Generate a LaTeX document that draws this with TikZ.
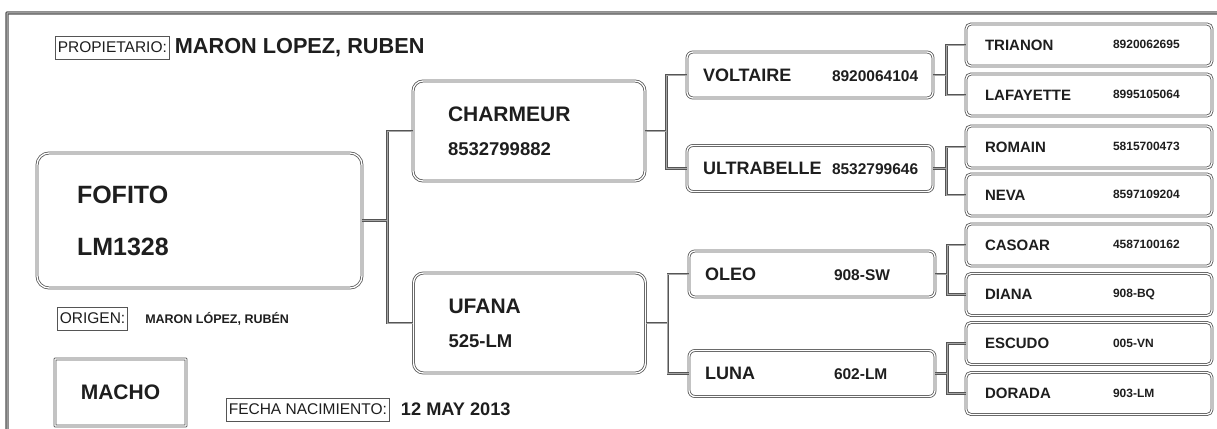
\documentclass[tikz,border=0pt]{standalone}
\usepackage{fontspec}
\setmainfont{Liberation Sans}
\usepackage{xcolor}
\usetikzlibrary{positioning}
\definecolor{pedline}{RGB}{85,85,85}
\definecolor{pedtext}{RGB}{30,30,30}
\newcommand{\threerow}[2]{\makebox[129pt][l]{#1}{\fontsize{15.5}{18}\selectfont#2}}
\newcommand{\fourrow}[2]{\makebox[128pt][l]{#1}\raisebox{1.5pt}{\fontsize{12}{14}\selectfont#2}}

\begin{document}
\begin{tikzpicture}[x=1pt, y=-1pt,
        dbl/.style={draw=pedline, line width=0.8pt, double=white, double distance=1.3pt},
        mainbox/.style={dbl, rounded corners=12pt, minimum width=325pt, minimum height=135pt, inner xsep=40pt, text width=245pt, align=left, text=pedtext, font=\bfseries\fontsize{25}{52}\selectfont},
        gentwo/.style={dbl, rounded corners=10pt, minimum width=232pt, minimum height=100pt, inner xsep=35pt, text width=162pt, align=left, text=pedtext, font=\bfseries\fontsize{21}{34}\selectfont},
        genthree/.style={dbl, rounded corners=6pt, minimum width=246pt, minimum height=46pt, inner xsep=16pt, text width=214pt, align=left, text=pedtext, font=\bfseries\fontsize{18}{22}\selectfont},
        genfour/.style={dbl, rounded corners=5pt, minimum width=246pt, minimum height=42pt, inner xsep=19pt, text width=208pt, align=left, text=pedtext, font=\bfseries\fontsize{15}{18}\selectfont},
        sexbox/.style={dbl, rounded corners=0.5pt, minimum width=131pt, minimum height=67pt, text=pedtext, font=\bfseries\fontsize{21}{24}\selectfont},
        lbl/.style={draw=pedline, line width=0.6pt, inner xsep=2.5pt, inner ysep=0pt, minimum height=23pt, text=pedtext, font=\fontsize{15.5}{18}\selectfont},
        link/.style={draw=pedline, line width=0.7pt, double=black!35, double distance=0.9pt}
    ]
        \useasboundingbox (0,0) rectangle (1217,428);
        % frame
        \draw[dbl, line width=1.1pt, double=black!25, double distance=1pt, rounded corners=0.5pt] (7,430) -- (7,13) -- (1219,13);

        % header and data
        \node[lbl, anchor=west] (proplbl) at (55,47.5) {PROPIETARIO:};
        \node[right=5pt of proplbl, inner sep=0pt, text=pedtext, font=\bfseries\fontsize{21.7}{24}\selectfont] (propname) {MARON LOPEZ, RUBEN};
        \node[lbl, anchor=west] (origlbl) at (57,318.5) {ORIGEN:};
        \node[right=17pt of origlbl, inner sep=0pt, text=pedtext, font=\bfseries\fontsize{12.5}{15}\selectfont] (origname) {MARON LÓPEZ, RUBÉN};
        \node[sexbox] (sex) at (120.5,392.5) {MACHO};
        \node[lbl, anchor=west] (birthlbl) at (226,409.5) {FECHA NACIMIENTO:};
        \node[right=11pt of birthlbl, inner sep=0pt, text=pedtext, font=\bfseries\fontsize{18.2}{22}\selectfont] (birthdate) {12 MAY 2013};

        % animal and parents
        \node[mainbox] (fofito) at (199.5,220.5) {FOFITO\\LM1328};
        \node[gentwo] (charmeur) at (529,131) {CHARMEUR\\{\fontsize{18.5}{34}\selectfont 8532799882}};
        \node[gentwo] (ufana) at (529.5,323) {UFANA\\{\fontsize{18.5}{34}\selectfont 525-LM}};

        % grandparents
        \node[genthree] (voltaire) at (810,75) {\threerow{VOLTAIRE}{8920064104}};
        \node[genthree] (ultrabelle) at (810,168.5) {\threerow{ULTRABELLE}{8532799646}};
        \node[genthree] (oleo) at (812,274) {\threerow{OLEO}{908-SW}};
        \node[genthree] (luna) at (812,373.5) {\threerow{LUNA}{602-LM}};

        % great-grandparents
        \node[genfour] (trianon) at (1089,45) {\fourrow{TRIANON}{8920062695}};
        \node[genfour] (lafayette) at (1089,95) {\fourrow{LAFAYETTE}{8995105064}};
        \node[genfour] (romain) at (1089,147) {\fourrow{ROMAIN}{5815700473}};
        \node[genfour] (neva) at (1089,195) {\fourrow{NEVA}{8597109204}};
        \node[genfour] (casoar) at (1089,245) {\fourrow{CASOAR}{4587100162}};
        \node[genfour] (diana) at (1089,294.5) {\fourrow{DIANA}{908-BQ}};
        \node[genfour] (escudo) at (1089,343.5) {\fourrow{ESCUDO}{005-VN}};
        \node[genfour] (dorada) at (1089,393.5) {\fourrow{DORADA}{903-LM}};

        \draw[link] (fofito.east) -- ++(25,0) coordinate (f0) |- (charmeur.west) (f0) |- (ufana.west);
        \draw[link] (charmeur.east) -- ++(21,0) coordinate (f1) |- (voltaire.west) (f1) |- (ultrabelle.west);
        \draw[link] (ufana.east) -- ++(22,0) coordinate (f2) |- (oleo.west) (f2) |- (luna.west);
        \draw[link] (voltaire.east) -- ++(13,0) coordinate (f3) |- (trianon.west) (f3) |- (lafayette.west);
        \draw[link] (ultrabelle.east) -- ++(13,0) coordinate (f4) |- (romain.west) (f4) |- (neva.west);
        \draw[link] (oleo.east) -- ++(12,0) coordinate (f5) |- (casoar.west) (f5) |- (diana.west);
        \draw[link] (luna.east) -- ++(12,0) coordinate (f6) |- (escudo.west) (f6) |- (dorada.west);
    \end{tikzpicture}
\end{document}
